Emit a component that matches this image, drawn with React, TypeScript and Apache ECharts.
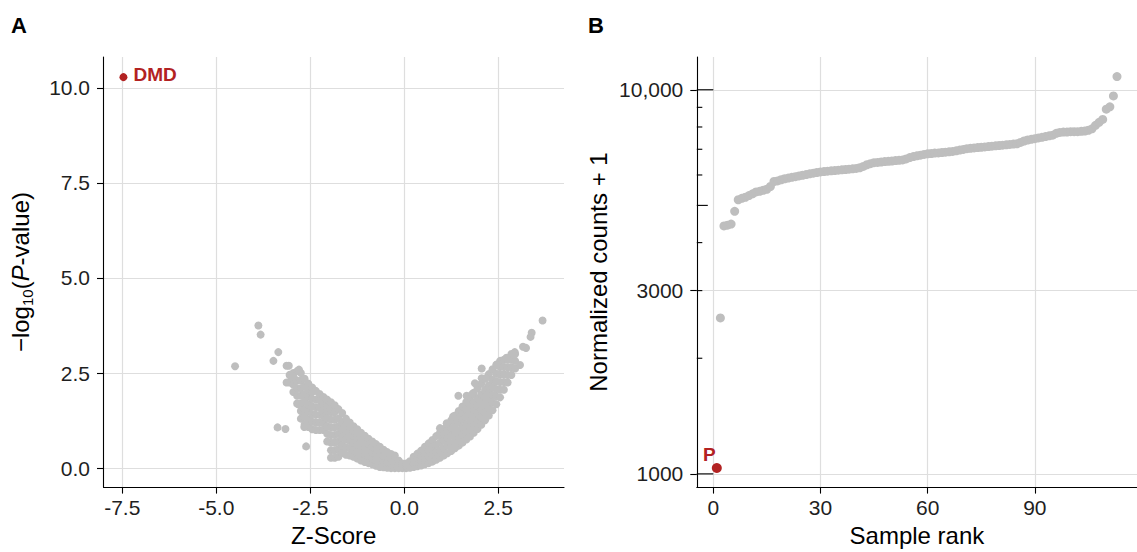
import React, { useEffect, useRef } from "react";
import * as echarts from "echarts";

// ---------------- Panel A: volcano plot ----------------
// Columns of the dense grey band: [Z-score, list of -log10(P) values]
const volcanoLeftColumns: [number, number[]][] = [
  [-3.05, [2.25, 2.45]],
  [-2.95, [2.0, 2.2, 2.4, 2.5]],
  [-2.85, [1.7, 1.9, 2.1, 2.3, 2.55]],
  [-2.75, [1.3, 1.5, 1.7, 1.9, 2.1, 2.3, 2.5]],
  [-2.65, [1.15, 1.35, 1.55, 1.75, 1.95, 2.15, 2.35]],
  [-2.55, [1.08, 1.28, 1.48, 1.68, 1.88, 2.05, 2.22]],
  [-2.45, [1.02, 1.22, 1.42, 1.62, 1.82, 2.0, 2.12]],
  [-2.35, [1.0, 1.2, 1.4, 1.6, 1.8, 2.03]],
  [-2.25, [1.0, 1.2, 1.4, 1.6, 1.78, 1.95]],
  [-2.15, [1.0, 1.18, 1.36, 1.54, 1.72, 1.87]],
  [-2.05, [0.7, 0.9, 1.1, 1.3, 1.5, 1.68, 1.8]],
  [-1.95, [0.27, 0.47, 0.67, 0.87, 1.07, 1.27, 1.47, 1.62, 1.73]],
  [-1.85, [0.27, 0.47, 0.67, 0.87, 1.07, 1.27, 1.47, 1.65]],
  [-1.75, [0.3, 0.5, 0.7, 0.9, 1.1, 1.3, 1.55]],
  [-1.65, [0.4, 0.6, 0.8, 1.0, 1.2, 1.45]],
  [-1.55, [0.35, 0.55, 0.75, 0.95, 1.12, 1.3]],
  [-1.45, [0.33, 0.52, 0.71, 0.9, 1.05, 1.2]],
  [-1.35, [0.3, 0.48, 0.66, 0.84, 0.98, 1.1]],
  [-1.25, [0.25, 0.43, 0.61, 0.79, 0.92, 1.02]],
  [-1.15, [0.2, 0.38, 0.56, 0.74, 0.93]],
  [-1.05, [0.16, 0.34, 0.52, 0.7, 0.85]],
  [-0.95, [0.13, 0.3, 0.47, 0.63, 0.77]],
  [-0.85, [0.1, 0.26, 0.42, 0.57, 0.7]],
  [-0.75, [0.06, 0.22, 0.38, 0.52, 0.63]],
  [-0.65, [0.03, 0.19, 0.35, 0.48, 0.56]],
  [-0.55, [0.02, 0.17, 0.32, 0.48]],
  [-0.45, [0.01, 0.15, 0.29, 0.42]],
  [-0.35, [0.0, 0.13, 0.25, 0.37]],
  [-0.25, [0.0, 0.11, 0.22, 0.33]],
  [-0.15, [0.0, 0.1, 0.2]],
  [-0.05, [0.0, 0.06, 0.12]],
];

const volcanoRightColumns: [number, number[]][] = [
  [0.05, [0.0, 0.06, 0.12]],
  [0.15, [0.01, 0.1, 0.18]],
  [0.25, [0.03, 0.13, 0.22, 0.3]],
  [0.35, [0.05, 0.16, 0.27, 0.38]],
  [0.45, [0.07, 0.2, 0.33, 0.46]],
  [0.55, [0.1, 0.25, 0.4, 0.56]],
  [0.65, [0.13, 0.3, 0.47, 0.65]],
  [0.75, [0.17, 0.36, 0.55, 0.74]],
  [0.85, [0.22, 0.42, 0.62, 0.84]],
  [0.95, [0.27, 0.47, 0.67, 0.87, 0.93]],
  [1.05, [0.33, 0.53, 0.73, 0.9, 1.03]],
  [1.15, [0.39, 0.59, 0.79, 0.97, 1.14]],
  [1.25, [0.45, 0.65, 0.85, 1.05, 1.26]],
  [1.35, [0.52, 0.72, 0.92, 1.12, 1.3, 1.38]],
  [1.45, [0.59, 0.79, 0.99, 1.19, 1.37, 1.5]],
  [1.55, [0.67, 0.87, 1.07, 1.27, 1.45, 1.62]],
  [1.65, [0.75, 0.95, 1.15, 1.35, 1.55, 1.74]],
  [1.75, [0.83, 1.03, 1.23, 1.43, 1.63, 1.86]],
  [1.85, [0.93, 1.13, 1.33, 1.53, 1.73, 1.98]],
  [1.95, [1.03, 1.23, 1.43, 1.63, 1.83, 2.1]],
  [2.05, [1.14, 1.34, 1.54, 1.74, 1.94, 2.22]],
  [2.15, [1.26, 1.46, 1.66, 1.86, 2.06, 2.35]],
  [2.25, [1.38, 1.58, 1.78, 1.98, 2.18, 2.47]],
  [2.35, [1.52, 1.72, 1.92, 2.12, 2.32, 2.6]],
  [2.45, [1.68, 1.88, 2.08, 2.28, 2.48, 2.72]],
  [2.55, [1.86, 2.06, 2.26, 2.46, 2.66, 2.82]],
  [2.65, [2.06, 2.26, 2.46, 2.66, 2.85]],
  [2.75, [2.25, 2.45, 2.65, 2.85]],
  [2.85, [2.45, 2.65, 2.85, 3.0]],
  [2.95, [2.62, 2.82, 3.0]],
];

// Isolated grey points
const volcanoOutliers: [number, number][] = [
  [-4.5, 2.68], [-3.88, 3.75], [-3.82, 3.51], [-3.35, 3.05], [-3.48, 2.82],
  [-3.13, 2.69], [-3.07, 2.69], [-2.8, 2.59], [-3.13, 2.25], [-3.04, 2.44],
  [-2.95, 2.4], [-3.37, 1.07], [-3.16, 1.03], [-2.61, 0.57], [-2.82, 1.68],
  [-2.66, 1.08],
  [3.68, 3.88], [3.39, 3.56], [3.36, 3.45], [3.16, 3.19], [3.24, 3.16],
  [2.94, 3.05], [2.9, 3.01], [2.72, 2.9], [3.08, 2.71], [2.46, 2.71],
  [2.06, 2.62], [1.88, 2.23], [1.44, 1.9], [1.66, 1.9], [1.81, 1.95],
  [2.06, 2.36], [2.17, 2.36], [0.95, 1.05], [1.13, 1.18], [1.35, 0.57],
  [1.3, 1.36],
];

const dmdPoint: [number, number] = [-7.47, 10.28];
const dmdLabel = "DMD";

const xTicksA = [-7.5, -5, -2.5, 0, 2.5];
const xTickLabelsA = ["-7.5", "-5.0", "-2.5", "0.0", "2.5"];
const yTicksA = [0, 2.5, 5, 7.5, 10];
const yTickLabelsA = ["0.0", "2.5", "5.0", "7.5", "10.0"];

// ---------------- Panel B: ranked normalized counts ----------------
// Normalized counts + 1 for sample ranks 1..113
const sampleCounts = [
  1036, 2547, 4421, 4440, 4470, 4826, 5172, 5215, 5250, 5303,
  5360, 5420, 5440, 5475, 5508, 5600, 5770, 5790, 5830, 5866,
  5890, 5915, 5940, 5965, 5990, 6015, 6040, 6065, 6090, 6112,
  6125, 6138, 6150, 6160, 6175, 6187, 6200, 6213, 6226, 6240,
  6265, 6316, 6380, 6420, 6460, 6470, 6485, 6500, 6510, 6525,
  6540, 6550, 6565, 6605, 6660, 6700, 6730, 6755, 6785, 6810,
  6825, 6840, 6850, 6865, 6880, 6895, 6910, 6935, 6965, 6995,
  7025, 7040, 7055, 7070, 7085, 7100, 7115, 7130, 7145, 7160,
  7175, 7190, 7205, 7220, 7235, 7295, 7355, 7400, 7430, 7460,
  7490, 7520, 7555, 7585, 7615, 7700, 7745, 7760, 7760, 7780,
  7780, 7780, 7795, 7810, 7845, 7910, 8080, 8225, 8370, 8900,
  9030, 9640, 10820,
];
const highlightedRank = 1;
const highlightedLabel = "P";

const xTicksB = [0, 30, 60, 90];
const xTickLabelsB = ["0", "30", "60", "90"];
const yTicksB = [1000, 3000, 10000];
const yTickLabelsB = ["1000", "3000", "10,000"];
// annotation log ticks drawn inside panel B
const logTicksShort = [2000, 3000, 4000, 6000, 7000, 8000, 9000];
const logTicksMid = [5000];
const logTicksLong = [1000, 10000];

// ---------------- styling ----------------
const FONT = "Liberation Sans, Arial, Helvetica, sans-serif";
const GREY = "#bebebe";
const RED = "#b22222";
const X_MIN_A = -8.0, X_MAX_A = 4.25, Y_MIN_A = -0.5, Y_MAX_A = 10.81;
const X_MIN_B = -4.6, X_MAX_B = 118.6, Y_MIN_B = 923.8, Y_MAX_B = 12170;
const LOG_TICK_LEN = { short: 5.5, mid: 11, long: 16.5 };

function labelFor(ticks: number[], labels: string[], v: number) {
  let best = 0;
  for (let i = 1; i < ticks.length; i++) {
    if (Math.abs(ticks[i] - v) < Math.abs(ticks[best] - v)) best = i;
  }
  return labels[best];
}

const axisLine = { show: true, onZero: false, lineStyle: { color: "#000", width: 1.1 } };
const tickBase = { show: true, inside: false, length: 6.5, lineStyle: { color: "#000", width: 1.1 } };
const labelBase = { fontSize: 21, color: "#1f1f1f", fontFamily: FONT };
const gridLine = { show: true, lineStyle: { color: "#dedede", width: 1.2 } };
const nameStyle = { fontSize: 24, color: "#000", fontFamily: FONT };

export default function App() {
  const ref = useRef<HTMLDivElement>(null);

  useEffect(() => {
    if (!ref.current) return;
    const chart = echarts.init(ref.current, undefined, { renderer: "svg" });

    const volcanoGrey: number[][] = [
      ...volcanoLeftColumns.flatMap(([z, vs]) => vs.map((v) => [z, v])),
      ...volcanoRightColumns.flatMap(([z, vs]) => vs.map((v) => [z, v])),
      ...volcanoOutliers,
    ];
    const rankGrey: number[][] = [];
    const rankRed: number[][] = [];
    sampleCounts.forEach((v, i) => {
      const r = i + 1;
      if (r === highlightedRank) rankRed.push([r, v]);
      else rankGrey.push([r, v]);
    });

    const logTickSeries = (vals: number[], len: number) => ({
      type: "custom",
      xAxisIndex: 1,
      yAxisIndex: 1,
      silent: true,
      clip: false,
      encode: { x: 0, y: 1 },
      data: vals.map((v) => [X_MIN_B, v]),
      renderItem: (params: any, api: any) => {
        const p = api.coord([api.value(0), api.value(1)]);
        return {
          type: "line",
          shape: { x1: p[0], y1: p[1], x2: p[0] + len, y2: p[1] },
          style: { stroke: "#000", lineWidth: 1.1 },
        };
      },
    });

    const option: any = {
      animation: false,
      backgroundColor: "#fff",
      textStyle: { fontFamily: FONT },
      grid: [
        { left: 103.5, top: 57, width: 460.5, height: 433 },
        { left: 696.8, top: 57, width: 442.6, height: 433 },
      ],
      xAxis: [
        {
          type: "value", gridIndex: 0, min: X_MIN_A, max: X_MAX_A, position: "bottom",
          axisLine,
          axisTick: { ...tickBase, customValues: xTicksA },
          axisLabel: { ...labelBase, margin: 10, customValues: xTicksA,
            formatter: (v: number) => labelFor(xTicksA, xTickLabelsA, v) },
          splitLine: gridLine,
          name: "Z-Score", nameLocation: "middle", nameGap: 35, nameTextStyle: nameStyle,
        },
        {
          type: "value", gridIndex: 1, min: X_MIN_B, max: X_MAX_B, position: "bottom",
          axisLine,
          axisTick: { ...tickBase, customValues: xTicksB },
          axisLabel: { ...labelBase, margin: 10, customValues: xTicksB,
            formatter: (v: number) => labelFor(xTicksB, xTickLabelsB, v) },
          splitLine: gridLine,
          name: "Sample rank", nameLocation: "middle", nameGap: 35, nameTextStyle: nameStyle,
        },
      ],
      yAxis: [
        {
          type: "value", gridIndex: 0, min: Y_MIN_A, max: Y_MAX_A, position: "left",
          axisLine,
          axisTick: { ...tickBase, customValues: yTicksA },
          axisLabel: { ...labelBase, margin: 13.5, customValues: yTicksA,
            formatter: (v: number) => labelFor(yTicksA, yTickLabelsA, v) },
          splitLine: gridLine,
          name: "{a|\u2212log}{s|10}{a|(}{i|P}{a|-value)}",
          nameLocation: "middle",
          nameGap: 69,
          nameTextStyle: {
            ...nameStyle,
            rich: {
              a: { fontSize: 24, lineHeight: 26, verticalAlign: "top", color: "#000", fontFamily: FONT },
              i: { fontSize: 24, lineHeight: 26, verticalAlign: "top", fontStyle: "italic", color: "#000", fontFamily: FONT },
              s: { fontSize: 15, lineHeight: 16, padding: [14, 0, 0, 0], verticalAlign: "bottom", color: "#000", fontFamily: FONT },
            },
          },
        },
        {
          type: "log", logBase: 10, gridIndex: 1, min: Y_MIN_B, max: Y_MAX_B, position: "left",
          axisLine,
          axisTick: { ...tickBase, customValues: yTicksB },
          axisLabel: { ...labelBase, margin: 13.5, customValues: yTicksB,
            formatter: (v: number) => labelFor(yTicksB, yTickLabelsB, v) },
          minorTick: { show: false },
          minorSplitLine: { show: false },
          splitLine: gridLine,
          name: "Normalized counts + 1", nameLocation: "middle", nameGap: 86, nameTextStyle: nameStyle,
        },
      ],
      series: [
        {
          type: "scatter", xAxisIndex: 0, yAxisIndex: 0, silent: true,
          symbol: "circle", symbolSize: 8,
          itemStyle: { color: GREY, opacity: 1 },
          data: volcanoGrey,
        },
        {
          type: "scatter", xAxisIndex: 0, yAxisIndex: 0, silent: true,
          symbol: "circle", symbolSize: 8,
          itemStyle: { color: RED, opacity: 1 },
          data: [dmdPoint],
          label: {
            show: true, formatter: dmdLabel, position: "right", distance: 6, offset: [0, -3],
            fontSize: 19, fontWeight: "bold", color: RED, fontFamily: FONT,
          },
        },
        {
          type: "scatter", xAxisIndex: 1, yAxisIndex: 1, silent: true,
          symbol: "circle", symbolSize: 9,
          itemStyle: { color: GREY, opacity: 1 },
          data: rankGrey,
        },
        {
          type: "scatter", xAxisIndex: 1, yAxisIndex: 1, silent: true,
          symbol: "circle", symbolSize: 10,
          itemStyle: { color: RED, opacity: 1 },
          data: rankRed,
          label: {
            show: true, formatter: highlightedLabel, position: "top", distance: 1, offset: [-7.5, 2],
            fontSize: 19, fontWeight: "bold", color: RED, fontFamily: FONT,
          },
        },
        logTickSeries(logTicksShort, LOG_TICK_LEN.short),
        logTickSeries(logTicksMid, LOG_TICK_LEN.mid),
        logTickSeries(logTicksLong, LOG_TICK_LEN.long),
      ],
      graphic: [
        {
          type: "text", left: 11, top: 14,
          style: { text: "A", fontSize: 22, fontWeight: "bold", fill: "#000", fontFamily: FONT },
        },
        {
          type: "text", left: 588, top: 14,
          style: { text: "B", fontSize: 22, fontWeight: "bold", fill: "#000", fontFamily: FONT },
        },
      ],
    };

    chart.setOption(option);
    return () => chart.dispose();
  }, []);

  return (
    <div
      ref={ref}
      style={{ position: "fixed", left: 0, top: 0, width: 1137, height: 552, background: "#fff" }}
    />
  );
}
